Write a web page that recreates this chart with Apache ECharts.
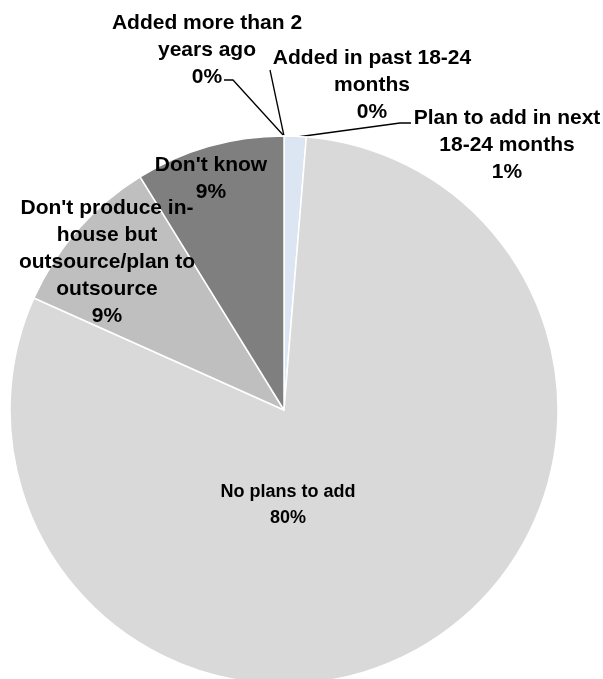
<!DOCTYPE html>
<html>
<head>
<meta charset="utf-8">
<script src="https://cdn.jsdelivr.net/npm/echarts@6/dist/echarts.min.js"></script>
<style>
html,body{margin:0;padding:0;background:#fff;}
#chart{width:603px;height:679px;}
</style>
</head>
<body>
<div id="chart"></div>
<script>
// ---- data ----
var categories = [
  "Added more than 2 years ago",
  "Added in past 18-24 months",
  "Plan to add in next 18-24 months",
  "No plans to add",
  "Don't produce in-house but outsource/plan to outsource",
  "Don't know"
];
var values = [0, 0, 1.3, 80.4, 9.5, 8.8];
var shownPercents = ["0%", "0%", "1%", "80%", "9%", "9%"];
var wrappedNames = [
  "Added more than 2\nyears ago",
  "Added in past 18-24\nmonths",
  "Plan to add in next\n18-24 months",
  "No plans to add",
  "Don't produce in-\nhouse but\noutsource/plan to\noutsource",
  "Don't know"
];

// ---- styles ----
var colors = ['#c6d9f1', '#dbe5f1', '#dce6f2', '#d9d9d9', '#bfbfbf', '#7f7f7f'];
var labelCenters = [[207, 50], [372, 85], [507, 145], [288, 505], [107, 262], [211, 179]];
var leaderLines = [
  [[284, 136], [233, 80], [224, 80]],
  [[284, 136], [277, 103], [270, 70]],
  [[297, 137], [400, 123], [411, 123]],
  null, null, null
];

var chart = echarts.init(document.getElementById('chart'), null, {renderer: 'canvas'});
var data = categories.map(function (c, i) {
  var item = {
    name: c,
    value: values[i],
    itemStyle: {color: colors[i]},
    labelLine: {show: !!leaderLines[i], lineStyle: {color: '#000', width: 1.3}}
  };
  if (i === 3) {
    item.label = {fontSize: 18, lineHeight: 26};
  }
  return item;
});

chart.setOption({
  animation: false,
  backgroundColor: '#ffffff',
  series: [{
    type: 'pie',
    center: [284, 410],
    radius: 274,
    startAngle: 90,
    clockwise: true,
    avoidLabelOverlap: false,
    itemStyle: {borderColor: '#ffffff', borderWidth: 1.5},
    label: {
      show: true,
      position: 'outside',
      color: '#000',
      fontWeight: 'bold',
      fontFamily: '"Liberation Sans", Arial, sans-serif',
      fontSize: 21,
      lineHeight: 27,
      align: 'center',
      formatter: function (p) {
        return wrappedNames[p.dataIndex] + '\n' + shownPercents[p.dataIndex];
      }
    },
    labelLine: {show: true, length: 10, length2: 10},
    labelLayout: function (p) {
      var i = p.dataIndex;
      var res = {
        x: labelCenters[i][0],
        y: labelCenters[i][1],
        align: 'center',
        verticalAlign: 'middle'
      };
      if (leaderLines[i]) res.labelLinePoints = leaderLines[i];
      return res;
    },
    data: data
  }]
});
</script>
</body>
</html>
